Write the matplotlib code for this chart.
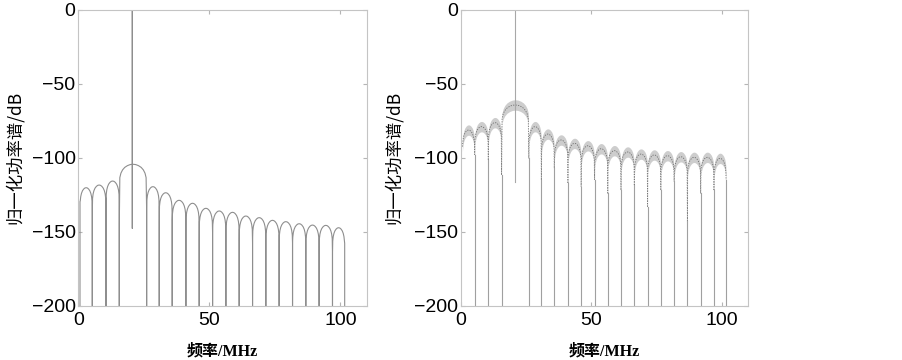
import matplotlib
matplotlib.use('Agg')
import matplotlib.pyplot as plt
import numpy as np

# null frequencies (MHz), shared by both panels
nulls = [0.65, 5.34, 10.56, 15.63, 26.07, 30.87, 35.82, 41.04, 46.11, 51.22,
         56.29, 61.36, 66.46, 71.53, 76.60, 81.71, 86.78, 91.85, 96.95, 101.6]
spike_x = 20.6

# left panel: lobe peaks and depth of curve next to each null (dB)
peaks_a = [-120.2, -118.4, -115.7, -104.4, -119.5, -123.6, -128.7, -130.7, -134.1, -135.9,
           -136.8, -139.3, -140.4, -142.2, -143.1, -144.5, -145.4, -145.6, -147.2]
edges_a = [-129.6, -137.5, -136.4, -146.5, -136.0, -148.7, -142.0, -154.0, -156.6, -151.0,
           -163.0, -155.5, -157.7, -172.0, -162.0, -158.0, -183.6, -164.5, -165.6, -157.7]
spike_lo_a = -147.6

# right panel: lobe centres and depth next to each null (dB)
peaks_b = [-81.3, -79.0, -76.3, -64.4, -79.0, -84.0, -88.0, -90.3, -91.9, -93.9,
           -95.2, -96.1, -97.5, -98.1, -98.6, -99.3, -99.7, -99.7, -100.4]
edges_b = [-92.5, -98.0, -101.5, -111.6, -100.4, -115.0, -107.0, -117.0, -119.5, -115.0,
           -124.0, -121.8, -118.4, -133.0, -121.8, -116.0, -143.0, -124.0, -121.8, -115.0]
spike_lo_b = -116.1

# lobe shape: offset from peak (dB) vs position inside lobe
prof_u = [0.02, 0.06, 0.12, 0.2, 0.3, 0.4, 0.5, 0.6, 0.7, 0.8, 0.88, 0.94, 0.98]
prof_db = [-9.0, -6.0, -3.8, -2.1, -0.9, -0.2, 0.0, -0.2, -0.9, -2.1, -3.8, -6.0, -9.0]


def lobes(peaks, edges):
    out = []
    for i, pk in enumerate(peaks):
        a, b = nulls[i], nulls[i + 1]
        xs = [a] + [a + u * (b - a) for u in prof_u] + [b]
        ys = [edges[i]] + [pk + d for d in prof_db] + [edges[i + 1]]
        out.append((xs, ys))
    return out


def add_spike(xs, ys, lo):
    k = int(np.searchsorted(xs, spike_x))
    top = ys[k - 1] + (ys[k] - ys[k - 1]) * (spike_x - xs[k - 1]) / (xs[k] - xs[k - 1])
    return (xs[:k] + [spike_x, spike_x, spike_x, spike_x] + xs[k:],
            ys[:k] + [top, 0, lo, top] + ys[k:])


def style(ax):
    ax.set_xlim(0, 110)
    ax.set_ylim(-200, 0)
    ax.set_xticks([0, 50, 100])
    ax.set_yticks([-200, -150, -100, -50, 0])
    ax.tick_params(direction='in', top=True, right=True, length=3, width=0.8,
                   color='#b5b5b5', labelsize=14, pad=2)
    ax.tick_params(axis='x', pad=4)
    for lab in ax.get_xticklabels() + ax.get_yticklabels():
        lab.set_family('Liberation Sans')
    for s in ax.spines.values():
        s.set_color('#c4c4c4')
        s.set_linewidth(0.8)
    ax.set_ylabel('归一化功率谱/dB', family=['Noto Sans CJK SC', 'DejaVu Sans'], fontsize=12.5)
    ax.set_xlabel('频率/MHz', family=['Liberation Serif', 'Noto Sans CJK SC'], fontsize=11.5,
                  fontweight='bold')
    ax.xaxis.set_label_coords(0.5, -0.125)


fig = plt.figure(figsize=(9.03, 3.6), dpi=100)
ax1 = fig.add_axes([0.0867, 0.15, 0.3194, 0.8236])
ax2 = fig.add_axes([0.5102, 0.15, 0.3182, 0.8236])

# left panel: one solid curve, nulls dropping to -200
xa, ya = [], []
for xs, ys in lobes(peaks_a, edges_a):
    xa += [xs[0]] + xs
    ya += [-200] + ys
xa += [nulls[-1]]
ya += [-200]
xa, ya = add_spike(xa, ya, spike_lo_a)
ax1.plot(xa, ya, color='#8e8e8e', lw=0.8)
style(ax1)
ax1.yaxis.set_label_coords(-0.19, 0.5)

# right panel: light band with a darker dashed centre line
for i, (xs, ys) in enumerate(lobes(peaks_b, edges_b)):
    yb = np.array(ys)
    ax2.fill_between(xs, yb - 3.5, yb + 3.5, color='#cdcdcd', lw=0)
    ax2.plot(xs, yb, color='#6e6e6e', lw=0.6, dashes=(1.5, 1.5))
    if i > 0:
        ax2.plot([nulls[i], nulls[i]], [-200, edges_b[i]], color='#a0a0a0', lw=0.8)
ax2.plot([nulls[-1], nulls[-1]], [-200, edges_b[-1]], color='#a0a0a0', lw=0.8)
ax2.plot([spike_x, spike_x], [spike_lo_b, 0], color='#a8a8a8', lw=0.8)
style(ax2)
ax2.yaxis.set_label_coords(-0.2, 0.5)

fig.savefig('out.png', dpi=100)
